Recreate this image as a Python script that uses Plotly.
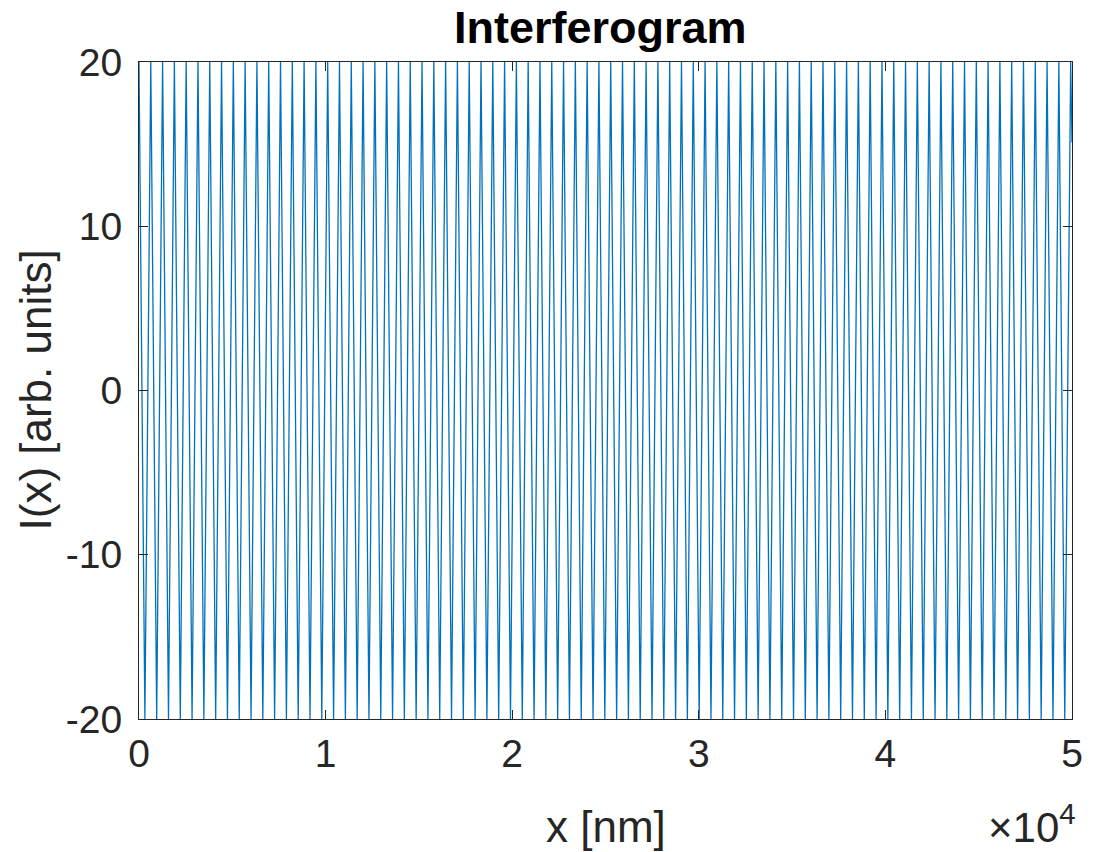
import plotly.graph_objects as go

# Extremum positions of the interferogram (nm)
peak_x = [0, 632, 1264, 1896, 2528, 3160, 3792, 4424, 5056, 5688,
          6320, 6952, 7584, 8216, 8848, 9480, 10112, 10744, 11376, 12008,
          12640, 13272, 13904, 14536, 15168, 15800, 16432, 17064, 17696, 18328,
          18960, 19592, 20224, 20856, 21488, 22120, 22752, 23384, 24016, 24648,
          25280, 25912, 26544, 27176, 27808, 28440, 29072, 29704, 30336, 30968,
          31600, 32232, 32864, 33496, 34128, 34760, 35392, 36024, 36656, 37288,
          37920, 38552, 39184, 39816, 40448, 41080, 41712, 42344, 42976, 43608,
          44240, 44872, 45504, 46136, 46768, 47400, 48032, 48664, 49296, 49928]
trough_x = [316, 948, 1580, 2212, 2844, 3476, 4108, 4740, 5372, 6004,
            6636, 7268, 7900, 8532, 9164, 9796, 10428, 11060, 11692, 12324,
            12956, 13588, 14220, 14852, 15484, 16116, 16748, 17380, 18012, 18644,
            19276, 19908, 20540, 21172, 21804, 22436, 23068, 23700, 24332, 24964,
            25596, 26228, 26860, 27492, 28124, 28756, 29388, 30020, 30652, 31284,
            31916, 32548, 33180, 33812, 34444, 35076, 35708, 36340, 36972, 37604,
            38236, 38868, 39500, 40132, 40764, 41396, 42028, 42660, 43292, 43924,
            44556, 45188, 45820, 46452, 47084, 47716, 48348, 48980, 49612]
peak_level = 20.0
trough_level = -20.0
end_x = 50000
end_level = 15.1

x_tick_vals = [0, 10000, 20000, 30000, 40000, 50000]
x_tick_text = ["0", "1", "2", "3", "4", "5"]
y_tick_vals = [-20, -10, 0, 10, 20]
y_tick_text = ["-20", "-10", "0", "10", "20"]

pts = [(px, peak_level) for px in peak_x] + [(tx, trough_level) for tx in trough_x]
pts.append((end_x, end_level))
pts.sort(key=lambda p: p[0])
xs = [p[0] for p in pts]
ys = [p[1] for p in pts]

FONT = "Liberation Sans, Arial, Helvetica, sans-serif"
AX = "#262626"
TICK = 39
LAB = 44

fig = go.Figure()
fig.add_trace(go.Scatter(x=xs, y=ys, mode="lines",
                         line=dict(color="#0072BD", width=1.3),
                         showlegend=False, hoverinfo="skip"))

fig.update_layout(
    width=1095, height=852,
    margin=dict(l=139, r=18, t=62, b=133),
    paper_bgcolor="white", plot_bgcolor="white",
    font=dict(family=FONT, color=AX, size=TICK),
    xaxis=dict(range=[0, 50000], tickvals=x_tick_vals, ticktext=x_tick_text,
               showgrid=False, zeroline=False, showline=True, linecolor=AX,
               linewidth=1.2, mirror="allticks", ticks="inside", ticklen=9,
               tickcolor=AX, tickfont=dict(size=TICK, color=AX),
               ticklabelstandoff=0),
    yaxis=dict(range=[-20, 20], tickvals=y_tick_vals, ticktext=y_tick_text,
               showgrid=False, zeroline=False, showline=True, linecolor=AX,
               linewidth=1.2, mirror="allticks", ticks="inside", ticklen=9,
               tickcolor=AX, tickfont=dict(size=TICK, color=AX),
               ticklabelstandoff=8),
    annotations=[
        dict(text="<b>Interferogram</b>", xref="paper", yref="paper",
             x=0.5, y=1.0, xanchor="center", yanchor="bottom", yshift=7,
             xshift=-5,
             showarrow=False, font=dict(size=45, color="black", family=FONT)),
        dict(text="x [nm]", xref="paper", yref="paper", x=0.5, y=0,
             xanchor="center", yanchor="middle", yshift=-107,
             showarrow=False, font=dict(size=LAB, color=AX, family=FONT)),
        dict(text="I(x) [arb. units]", xref="paper", yref="paper", x=0, y=0.5,
             xanchor="center", yanchor="middle", xshift=-104, textangle=-90,
             showarrow=False, font=dict(size=LAB, color=AX, family=FONT)),
        dict(text="×10<sup>4</sup>", xref="paper", yref="paper", x=1, y=0,
             xanchor="right", yanchor="top", yshift=-76, xshift=6,
             showarrow=False, font=dict(size=42, color=AX, family=FONT)),
    ],
)

fig.write_html("out.html")
